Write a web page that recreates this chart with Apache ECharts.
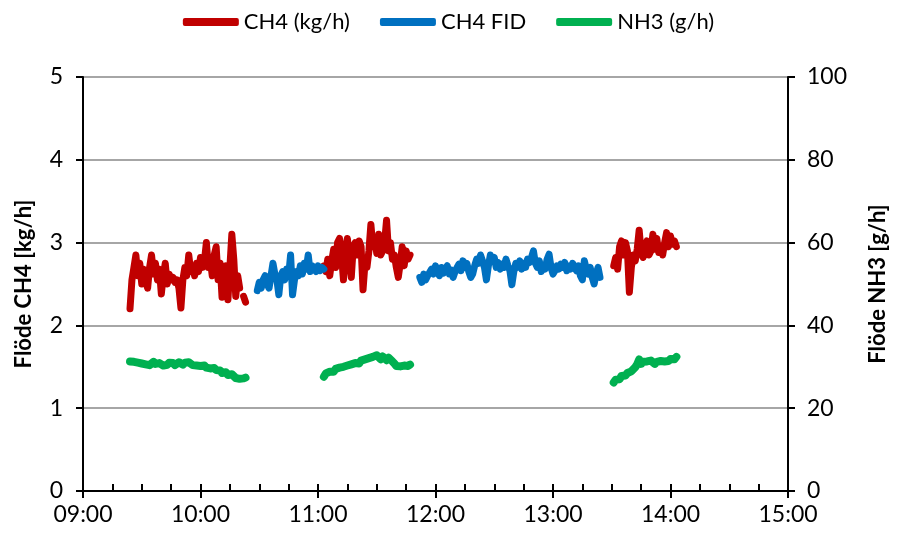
<!DOCTYPE html>
<html>
<head>
<meta charset="utf-8">
<title>Flöde CH4 / NH3</title>
<script src="https://cdn.jsdelivr.net/npm/echarts@6/dist/echarts.min.js"></script>
<style>html,body{margin:0;padding:0;background:#fff}</style>
</head>
<body>
<div id="main" style="width:897px;height:536px;"></div>
<script>
// start time of each run, then one reading per minute
var ch4Starts = ['09:24', '11:03', '13:31'];
var ch4Run1 = [2.2, 2.55, 2.7, 2.85, 2.6, 2.75, 2.5, 2.68, 2.55, 2.45, 2.7, 2.85, 2.62, 2.75, 2.55, 2.68, 2.38, 2.6, 2.75, 2.5,
  2.62, 2.55, 2.58, 2.52, 2.55, 2.45, 2.21, 2.55, 2.7, 2.6, 2.85, 2.65, 2.72, 2.6, 2.75, 2.65, 2.82, 2.7, 2.78, 3.0,
  2.7, 2.8, 2.6, 2.85, 2.95, 2.55, 2.75, 2.34, 2.65, 2.72, 2.31, 2.7, 3.1, 2.8, 2.35, 2.6, 2.45, null, 2.35, 2.28];
var ch4Run2 = [2.72, 2.65, 2.8, 2.6, 2.78, 2.92, 2.7, 3.0, 3.05, 2.85, 2.55, 2.9, 3.05, 2.8, 2.58, 2.95, 3.0, 2.85, 3.02, 2.95,
  2.43, 2.75, 2.7, 2.9, 3.22, 2.95, 3.05, 2.87, 3.1, 2.85, 2.9, 3.0, 3.27, 2.9, 3.0, 2.8, 2.85, 2.7, 2.58, 2.75,
  2.95, 2.72, 2.9, 2.8, 2.85];
var ch4Run3 = [2.72, 2.82, 2.68, 2.95, 3.02, 2.85, 3.0, 2.9, 2.4, 2.7, 2.85, 2.78, 2.92, 3.15, 2.88, 2.82, 2.95, 3.02, 2.85, 2.9,
  3.1, 2.92, 3.05, 2.88, 2.95, 2.85, 3.0, 3.12, 2.95, 3.08, 2.98, 3.02, 2.95];

var fidStarts = ['10:29', '11:52'];
var fidRun1 = [2.42, 2.52, 2.45, 2.55, 2.6, 2.5, 2.45, 2.6, 2.75, 2.62, 2.55, 2.37, 2.6, 2.65, 2.55, 2.68, 2.6, 2.85, 2.37, 2.55,
  2.65, 2.6, 2.72, 2.62, 2.75, 2.68, 2.85, 2.65, 2.72, 2.7, 2.65, 2.72, 2.66, 2.7, 2.68];
var fidRun2 = [2.58, 2.52, 2.62, 2.55, 2.6, 2.58, 2.68, 2.62, 2.72, 2.65, 2.6, 2.7, 2.63, 2.68, 2.72, 2.62, 2.67, 2.58, 2.65, 2.7,
  2.74, 2.66, 2.78, 2.7, 2.75, 2.65, 2.58, 2.62, 2.72, 2.8, 2.75, 2.85, 2.78, 2.7, 2.55, 2.72, 2.85, 2.78, 2.82, 2.7,
  2.76, 2.68, 2.74, 2.7, 2.8, 2.72, 2.66, 2.49, 2.65, 2.75, 2.7, 2.78, 2.68, 2.75, 2.7, 2.8, 2.76, 2.82, 2.9, 2.75,
  2.7, 2.78, 2.65, 2.72, 2.68, 2.8, 2.86, 2.7, 2.62, 2.66, 2.72, 2.68, 2.74, 2.7, 2.76, 2.66, 2.72, 2.68, 2.75, 2.7,
  2.66, 2.72, 2.6, 2.55, 2.78, 2.68, 2.62, 2.7, 2.58, 2.5, 2.62, 2.7, 2.58];

var nh3Starts = ['09:24', '11:03', '13:31'];
var nh3Run1 = [31.3, 31.6, 31.2, 31.5, 31.0, 31.3, 30.8, 31.2, 30.6, 30.9, 30.4, 30.8, 31.2, 30.7, 30.5, 30.9, 30.6, 30.3, 30.7, 30.5,
  31.0, 30.6, 30.9, 30.4, 30.7, 31.1, 30.8, 30.5, 31.0, 30.7, 31.1, 30.8, 30.4, 30.7, 30.3, 30.6, 30.2, 29.9, 30.3, 29.8,
  30.1, 29.6, 29.3, 29.7, 29.2, 28.8, 29.1, 28.5, 28.2, 28.7, 28.0, 27.6, 28.2, 27.8, 27.3, 27.7, 27.1, 27.5, 27.2, 27.4];
var nh3Run2 = [27.6, 28.4, 28.0, 28.8, 29.2, 28.8, 29.5, 29.3, 29.8, 29.5, 30.0, 29.7, 30.3, 30.0, 30.6, 30.3, 30.9, 31.2, 30.8, 31.5,
  31.2, 31.8, 31.4, 32.1, 31.7, 32.4, 32.0, 32.8, 32.3, 31.8, 32.5, 32.1, 31.6, 32.2, 31.8, 31.3, 30.8, 30.2, 29.8, 30.1,
  29.7, 30.3, 30.6, 30.2, 30.5];
var nh3Run3 = [26.2, 26.9, 27.3, 27.0, 27.8, 28.2, 27.9, 28.5, 28.3, 28.9, 29.4, 29.9, 30.6, 31.8, 30.7, 31.2, 30.8, 31.3, 31.0, 31.5,
  31.1, 30.7, 31.2, 30.9, 31.4, 31.8, 31.3, 31.7, 31.4, 31.9, 32.2, 31.8, 32.4];

var font = 'Lato';

function toMin(s) {
  var p = s.split(':');
  return +p[0] * 60 + +p[1];
}
function hhmm(v) {
  var h = Math.floor(v / 60), m = v % 60;
  return (h < 10 ? '0' : '') + h + ':' + (m < 10 ? '0' : '') + m;
}
// join the runs into one series, with a break between them
function joinRuns(starts, runs) {
  var out = [];
  runs.forEach(function (vals, k) {
    var t0 = toMin(starts[k]);
    if (k > 0) out.push([t0 - 0.5, '-']);
    vals.forEach(function (v, i) {
      out.push([t0 + i, v == null ? '-' : v]);
    });
  });
  return out;
}

var myChart = echarts.init(document.getElementById('main'));

var lineSeries = function (name, color, yIdx, width, data) {
  return {
    name: name,
    type: 'line',
    xAxisIndex: 0,
    yAxisIndex: yIdx,
    showSymbol: false,
    symbol: 'none',
    sampling: null,
    data: data,
    lineStyle: { color: color, width: width, cap: 'round', join: 'round' },
    itemStyle: { color: color }
  };
};

var option = {
  animation: false,
  textStyle: { fontFamily: font },
  legend: {
    top: 6,
    left: 'center',
    icon: 'roundRect',
    itemWidth: 56,
    itemHeight: 8,
    itemGap: 30,
    textStyle: { fontSize: 22, color: '#000', fontFamily: font },
    data: ['CH4 (kg/h)', 'CH4 FID', 'NH3 (g/h)']
  },
  grid: { left: 83, right: 104, top: 77, bottom: 45, containLabel: false },
  xAxis: [{
    type: 'value',
    min: 540, max: 900, interval: 60,
    position: 'bottom',
    axisLine: { show: true, lineStyle: { color: '#000', width: 2 } },
    axisTick: { show: true, inside: false, length: 7, lineStyle: { color: '#000', width: 2 } },
    axisLabel: { fontSize: 23, color: '#000', margin: 12, formatter: hhmm, fontFamily: font },
    splitLine: { show: false }
  }, {
    // inside ticks and minor ticks (every 15 min)
    type: 'value',
    min: 540, max: 900, interval: 60,
    position: 'bottom',
    axisLine: { show: false },
    axisTick: { show: true, inside: true, length: 7, lineStyle: { color: '#000', width: 2 } },
    minorTick: { show: true, splitNumber: 4, length: 7, lineStyle: { color: '#000', width: 2 } },
    axisLabel: { show: false },
    splitLine: { show: false }
  }],
  yAxis: [{
    type: 'value',
    min: 0, max: 5, interval: 1,
    position: 'left',
    name: 'Flöde CH4 [kg/h]',
    nameLocation: 'middle',
    nameGap: 48,
    nameTextStyle: { fontSize: 22, fontWeight: 'bold', color: '#000', fontFamily: font },
    axisLine: { show: true, lineStyle: { color: '#000', width: 2 } },
    axisTick: { show: true, inside: false, length: 7, lineStyle: { color: '#000', width: 2 } },
    axisLabel: { fontSize: 23, color: '#000', margin: 20, fontFamily: font },
    splitLine: { show: true, lineStyle: { color: '#a6a6a6', width: 2 } }
  }, {
    type: 'value',
    min: 0, max: 100, interval: 20,
    position: 'right',
    name: 'Flöde NH3 [g/h]',
    nameLocation: 'middle',
    nameGap: 79,
    nameTextStyle: { fontSize: 22, fontWeight: 'bold', color: '#000', fontFamily: font },
    axisLine: { show: true, lineStyle: { color: '#000', width: 2 } },
    axisTick: { show: true, inside: false, length: 7, lineStyle: { color: '#000', width: 2 } },
    axisLabel: { fontSize: 23, color: '#000', margin: 19, fontFamily: font },
    splitLine: { show: false }
  }],
  series: [
    lineSeries('CH4 (kg/h)', '#c00000', 0, 7, joinRuns(ch4Starts, [ch4Run1, ch4Run2, ch4Run3])),
    lineSeries('CH4 FID', '#0070c0', 0, 7, joinRuns(fidStarts, [fidRun1, fidRun2])),
    lineSeries('NH3 (g/h)', '#00b050', 1, 8, joinRuns(nh3Starts, [nh3Run1, nh3Run2, nh3Run3]))
  ]
};

myChart.setOption(option);
</script>
</body>
</html>
